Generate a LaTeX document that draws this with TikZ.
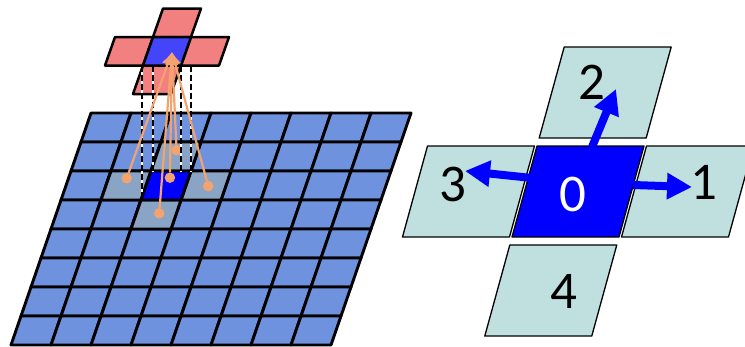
\documentclass[tikz,border=0pt]{standalone}
\usepackage{fontspec}
\setsansfont{Carlito}
\usetikzlibrary{arrows.meta}

\definecolor{cellblue}{RGB}{111,146,222}
\definecolor{nbgrey}{RGB}{138,164,198}
\definecolor{pureblue}{RGB}{0,0,255}
\definecolor{crossred}{RGB}{243,128,128}
\definecolor{crossblue}{RGB}{68,68,250}
\definecolor{rayorange}{RGB}{244,163,110}
\definecolor{tilecyan}{RGB}{192,224,224}

\tikzset{
  gridcell/.style={draw=black, fill=cellblue, line width=2.9pt},
  crosscell/.style={draw=black, fill=crossred, line width=2.5pt},
  tile/.style={draw=black, fill=tilecyan, line width=1.3pt},
  ray/.style={draw=rayorange, line width=2.2pt, -{Latex[length=13pt,width=12pt]}},
  dot/.style={circle, fill=rayorange, inner sep=0pt, minimum size=10.5pt},
  bigarrow/.style={draw=pureblue, line width=8pt, -{Triangle[length=25pt,width=25pt]}},
  digit/.style={inner sep=0pt, font=\sffamily\fontsize{53}{60}\selectfont},
}

\begin{document}
\begin{tikzpicture}[x=1pt, y=-1pt, line join=round]

  %% ════ 左：8x8 斜格子 ════
  \begin{scope}[shift={(91,113)}, x={(40pt,0pt)}, y={(-10pt,-29pt)}]
    \foreach \c in {0,...,7}
      \foreach \r in {0,...,7}
        \draw[gridcell] (\c,\r) -- ++(1,0) -- ++(0,1) -- ++(-1,0) -- cycle;
    % 四个邻居 + 中心
    \foreach \c/\r in {1/2, 3/2, 2/1, 2/3}
      \draw[gridcell, fill=nbgrey] (\c,\r) -- ++(1,0) -- ++(0,1) -- ++(-1,0) -- cycle;
    \draw[gridcell, fill=pureblue] (2,2) -- ++(1,0) -- ++(0,1) -- ++(-1,0) -- cycle;

    %% 采样点
    \node[dot] (pw) at (1.455,2.25) {};
    \node[dot] (pc) at (2.53,2.23) {};
    \node[dot] (pe) at (3.56,2.52) {};
    \node[dot] (pn) at (2.46,1.28) {};
    \node[dot] (ps) at (2.57,3.46) {};
  \end{scope}

  %% ════ 上方的十字（红） ════
  \begin{scope}[shift={(153,37)}, x={(38pt,0pt)}, y={(-10pt,-28.5pt)}]
    \foreach \c/\r in {0/-1, -1/0, 1/0, 0/1}
      \draw[crosscell] (\c,\r) -- ++(1,0) -- ++(0,1) -- ++(-1,0) -- cycle;
    \draw[crosscell, fill=crossblue] (0,0) -- ++(1,0) -- ++(0,1) -- ++(-1,0) -- cycle;
  \end{scope}

  %% ════ 投影虚线（白底黑虚线） ════
  \foreach \x/\yb in {142/198, 153/172, 181/172, 191/172} {
    \draw[white, line width=2pt] (\x,66) -- (\x,\yb);
    \draw[black, line width=1.8pt, dash pattern=on 6pt off 3pt] (\x,66) -- (\x,\yb);
  }

  %% ════ 橙色射线 ════
  \coordinate (apex) at (172,52);
  \foreach \p in {pw, pc, pe, pn, ps}
    \draw[ray] (\p) -- (apex);

  %% ════ 右：五格十字 ════
  \begin{scope}[shift={(537,146)}, x={(109.5pt,0pt)}, y={(-27.2pt,-99pt)}]
    \foreach \c/\r in {0/-1, -1/0, 1/0, 0/1}
      \draw[tile] (\c,\r) -- ++(0.977,0) -- ++(0,0.92) -- ++(-0.977,0) -- cycle;
    \draw[tile, fill=pureblue] (0,0) -- ++(0.977,0) -- ++(0,0.92) -- ++(-0.977,0) -- cycle;
  \end{scope}

  %% 蓝色箭头
  \coordinate (s2) at (592,147);  \coordinate (t2) at (616,89);
  \coordinate (s3) at (532,178);  \coordinate (t3) at (465,171);
  \coordinate (s1) at (633,185);  \coordinate (t1) at (692,187);
  \draw[bigarrow] (s2) -- (t2);
  \draw[bigarrow] (s3) -- (t3);
  \draw[bigarrow] (s1) -- (t1);

  %% ════ 标签 ════
  \node[digit, text=white] (n0) at (572.5,194) {0};
  \node[digit] (n1) at (704,182) {1};
  \node[digit] (n2) at (592,82) {2};
  \node[digit] (n3) at (453,184) {3};
  \node[digit] (n4) at (564,291) {4};

  % 钉死画布
  \pgfresetboundingbox
  \path[use as bounding box] (0,0) rectangle (745,346);
\end{tikzpicture}
\end{document}
